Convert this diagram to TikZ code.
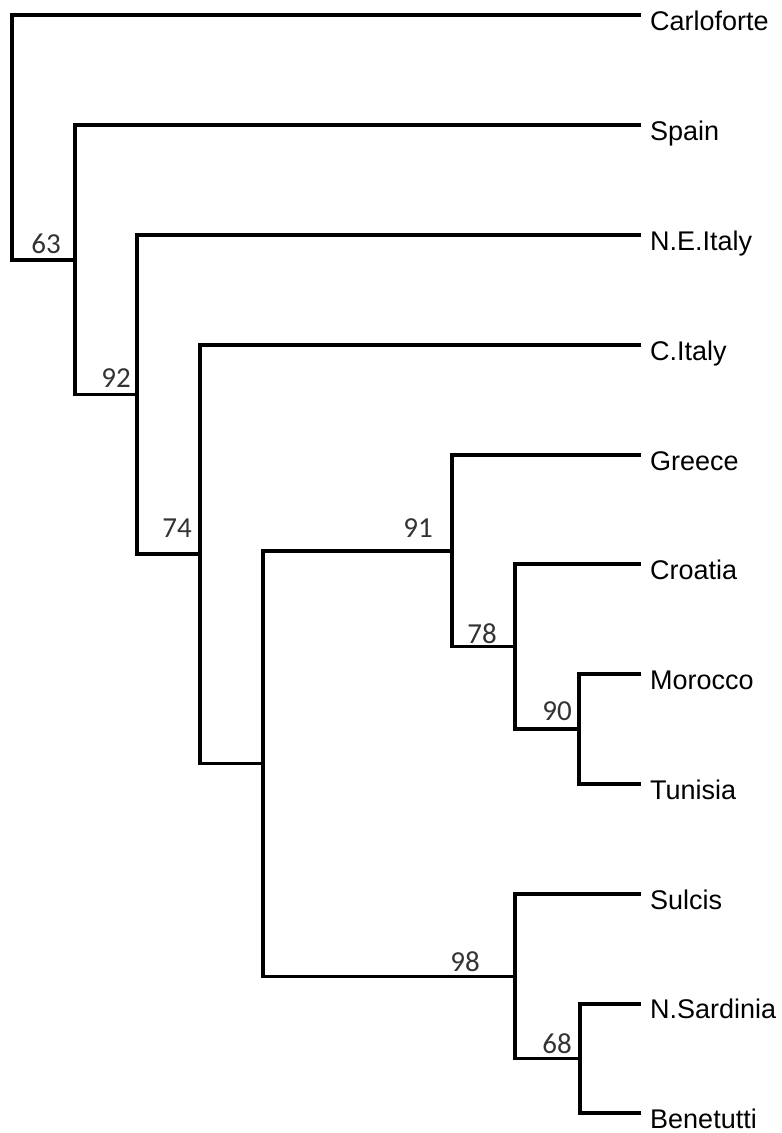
\documentclass[tikz,border=0pt]{standalone}
\usepackage{fontspec}
\setmainfont{Liberation Sans}
\newfontfamily\bootfont{Carlito}
\begin{document}
\begin{tikzpicture}[x=1pt,y=-1pt,
  branch/.style={line width=3.3pt, line join=miter, black},
  leaf/.style={anchor=base west, inner sep=0pt, font=\fontsize{27}{27}\selectfont},
  boot/.style={anchor=base east, inner sep=0pt, text=black!80, font=\bootfont\fontsize{29}{29}\selectfont}]
\useasboundingbox (0,0) rectangle (782,1133);
% leaf tips
\coordinate (tCar) at (641,15);
\coordinate (tSpa) at (641,125);
\coordinate (tNEI) at (641,235);
\coordinate (tCIt) at (641,345);
\coordinate (tGre) at (641,455);
\coordinate (tCro) at (641,564);
\coordinate (tMor) at (641,674);
\coordinate (tTun) at (641,784);
\coordinate (tSul) at (641,894);
\coordinate (tNSa) at (641,1004);
\coordinate (tBen) at (641,1113);
% internal nodes
\coordinate (n90) at (579,729);
\coordinate (n78) at (515,646.5);
\coordinate (n91) at (452,551);
\coordinate (n68) at (580,1058.5);
\coordinate (n98) at (515,976.5);
\coordinate (nA) at (263,763.5);
\coordinate (n74) at (200,554);
\coordinate (n92) at (137,394.5);
\coordinate (n63) at (75,260);
\coordinate (root) at (12,137.5);
% leaf labels
\node[leaf] (Car) at (650,30) {Carloforte};
\node[leaf] (Spa) at (650,140) {Spain};
\node[leaf] (NEI) at (650,250) {N.E.Italy};
\node[leaf] (CIt) at (650,360) {C.Italy};
\node[leaf] (Gre) at (650,470) {Greece};
\node[leaf] (Cro) at (650,579) {Croatia};
\node[leaf] (Mor) at (650,689) {Morocco};
\node[leaf] (Tun) at (650,799) {Tunisia};
\node[leaf] (Sul) at (650,909) {Sulcis};
\node[leaf] (NSa) at (650,1018) {N.Sardinia};
\node[leaf] (Ben) at (650,1128) {Benetutti};
% branches
\draw[branch] (tMor) -| (n90) |- (tTun);
\draw[branch] (tCro) -| (n78) |- (n90);
\draw[branch] (tGre) -| (n91) |- (n78);
\draw[branch] (tNSa) -| (n68) |- (tBen);
\draw[branch] (tSul) -| (n98) |- (n68);
\draw[branch] (n91) -| (nA) |- (n98);
\draw[branch] (tCIt) -| (n74) |- (nA);
\draw[branch] (tNEI) -| (n92) |- (n74);
\draw[branch] (tSpa) -| (n63) |- (n92);
\draw[branch] (tCar) -| (root) |- (n63);
% bootstrap values
\node[boot] (b63) at (61,253) {63};
\node[boot] (b92) at (131,387) {92};
\node[boot] (b74) at (192,537) {74};
\node[boot] (b91) at (433,537) {91};
\node[boot] (b78) at (497,643) {78};
\node[boot] (b90) at (572,720) {90};
\node[boot] (b98) at (480,971) {98};
\node[boot] (b68) at (572,1053) {68};
\end{tikzpicture}
\end{document}
